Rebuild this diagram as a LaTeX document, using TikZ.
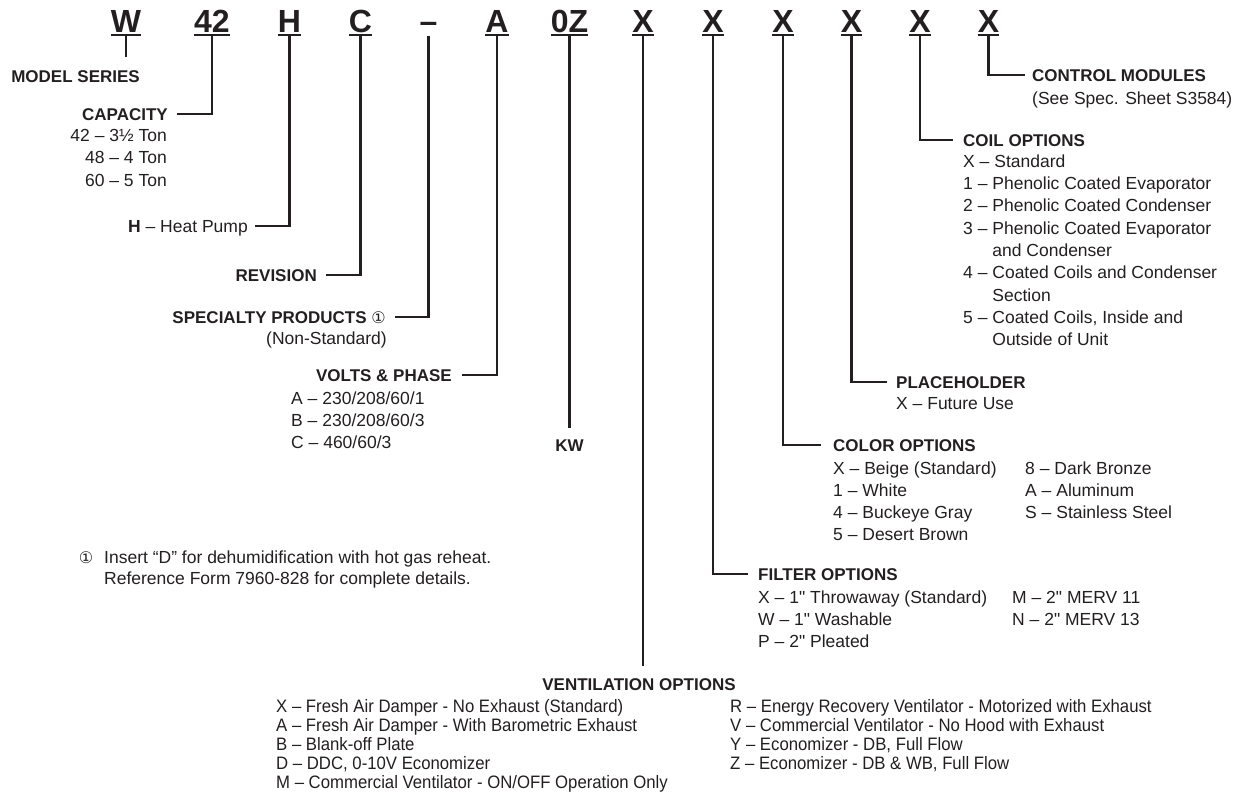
\documentclass[tikz,border=0pt]{standalone}
\usepackage{fontspec}
\setmainfont{Liberation Sans}[Ligatures=TeXOff]
\newfontfamily\symf{DejaVu Sans}
\newfontfamily\condf{Liberation Sans}[Ligatures=TeXOff,FakeStretch=0.93]
\usetikzlibrary{calc}
\definecolor{ink}{HTML}{231F20}
\begin{document}
\begin{tikzpicture}[x=1pt,y=-1pt,
  code/.style={font=\fontsize{32}{32}\selectfont\bfseries,inner sep=0pt,text depth=0pt,anchor=base,text=ink},
  uline/.style={draw=ink,line width=1.8pt},
  conn/.style={draw=ink,line width=2.6pt},
  hdr/.style={font=\fontsize{17}{20}\selectfont\bfseries,inner sep=0pt,text height=12.2pt,text depth=0pt,text=ink},
  item/.style={font=\fontsize{17.5}{21}\selectfont,inner sep=0pt,text height=12.5pt,text depth=0pt,text=ink},
  vitem/.style={item,font=\condf\fontsize{18}{20}\selectfont,text height=12.9pt},
]
\useasboundingbox (0,0) rectangle (1250,804);

% ---- code letters ----
\node[code] (cW)  at (126,32)   {W};
\node[code] (c42) at (212,32)   {42};
\node[code] (cH)  at (289.5,32) {H};
\node[code] (cC)  at (360.5,32) {C};
\node[code] (cD)  at (428.5,32) {–};
\node[code] (cA)  at (497,32)   {A};
\node[code] (cK)  at (569.5,32) {0Z};
\node[code] (cX1) at (643,32)   {X};
\node[code] (cX2) at (713,32)   {X};
\node[code] (cX3) at (783,32)   {X};
\node[code] (cX4) at (851.5,32) {X};
\node[code] (cX5) at (920,32)   {X};
\node[code] (cX6) at (988.5,32) {X};
\foreach \n in {cW,c42,cH,cC,cA,cK,cX1,cX2,cX3,cX4,cX5,cX6}
  \draw[uline] ([yshift=-2.4pt]\n.south west) -- ([yshift=-2.4pt]\n.south east);

% ---- left labels ----
\node[hdr,anchor=east] (ms) at (140,76) {MODEL SERIES};
\node[hdr,anchor=east] (cap) at (168,114) {CAPACITY};
\node[item,anchor=east] (cap1) at (167,135)   {42 – 3½ Ton};
\node[item,anchor=east] (cap2) at (167,157.5) {48 – 4 Ton};
\node[item,anchor=east] (cap3) at (167,180)   {60 – 5 Ton};
\node[item,anchor=east] (hp) at (248,226) {{\bfseries H} – Heat Pump};
\node[hdr,anchor=east] (rev) at (317,275) {REVISION};
\node[hdr,anchor=east] (sp) at (386,317) {SPECIALTY PRODUCTS {\symf\fontsize{16}{16}\selectfont\mdseries ①}};
\node[item,anchor=east] (sp1) at (387,338) {(Non-Standard)};
\node[hdr,anchor=east] (vp) at (452,375) {VOLTS \& PHASE};
\node[item,anchor=west] (vp1) at (291,398) {A – 230/208/60/1};
\node[item,anchor=west] (vp2) at (291,420) {B – 230/208/60/3};
\node[item,anchor=west] (vp3) at (291,442) {C – 460/60/3};
\node[hdr] (kw) at (569.5,445) {KW};

% ---- footnote ----
\node[item,font=\symf\fontsize{16}{16}\selectfont] (fnm) at (86,557) {①};
\node[item,anchor=west] (fn1) at (104,557) {Insert “D” for dehumidification with hot gas reheat.};
\node[item,anchor=west] (fn2) at (104,578) {Reference Form 7960-828 for complete details.};

% ---- right labels ----
\node[hdr,anchor=west] (ctl) at (1032,75) {CONTROL MODULES};
\node[item,anchor=west] (ctl1) at (1032,98) {(See Spec. Sheet S3584)};

\node[hdr,anchor=west] (coil) at (963,140) {COIL OPTIONS};
\foreach \t [count=\i] in {X – Standard, 1 – Phenolic Coated Evaporator, 2 – Phenolic Coated Condenser,
  3 – Phenolic Coated Evaporator, \phantom{3 – }and Condenser, 4 – Coated Coils and Condenser,
  \phantom{4 – }Section, {5 – Coated Coils, Inside and}, \phantom{5 – }Outside of Unit}
  \node[item,anchor=west] (coil\i) at (963,{161+22.3*(\i-1)}) {\t};

\node[hdr,anchor=west] (ph) at (896,382) {PLACEHOLDER};
\node[item,anchor=west] (ph1) at (896,403) {X – Future Use};

\node[hdr,anchor=west] (col) at (833,445) {COLOR OPTIONS};
\foreach \t [count=\i] in {X – Beige (Standard), 1 – White, 4 – Buckeye Gray, 5 – Desert Brown}
  \node[item,anchor=west] (colA\i) at (833,{468+22*(\i-1)}) {\t};
\foreach \t [count=\i] in {8 – Dark Bronze, A – Aluminum, S – Stainless Steel}
  \node[item,anchor=west] (colB\i) at (1025,{468+22*(\i-1)}) {\t};

\node[hdr,anchor=west] (fil) at (758,574) {FILTER OPTIONS};
\foreach \t [count=\i] in {X – 1" Throwaway (Standard), W – 1" Washable, P – 2" Pleated}
  \node[item,anchor=west] (filA\i) at (758,{597+22*(\i-1)}) {\t};
\foreach \t [count=\i] in {M – 2" MERV 11, N – 2" MERV 13}
  \node[item,anchor=west] (filB\i) at (1012,{597+22*(\i-1)}) {\t};

\node[hdr] (vh) at (639,684) {VENTILATION OPTIONS};
\foreach \t [count=\i] in {X – Fresh Air Damper - No Exhaust (Standard), A – Fresh Air Damper - With Barometric Exhaust,
  B – Blank-off Plate, {D – DDC, 0-10V Economizer}, M – Commercial Ventilator - ON/OFF Operation Only}
  \node[vitem,anchor=west] (vA\i) at (276,{706+19*(\i-1)}) {\t};
\foreach \t [count=\i] in {R – Energy Recovery Ventilator - Motorized with Exhaust, V – Commercial Ventilator - No Hood with Exhaust,
  {Y – Economizer - DB, Full Flow}, {Z – Economizer - DB \& WB, Full Flow}}
  \node[vitem,anchor=west] (vB\i) at (730,{706+19*(\i-1)}) {\t};

% ---- connectors ----
\coordinate (wEnd) at (126,57);
\draw[conn] ([yshift=-2.4pt]cW.south) -- (wEnd);
\draw[conn] ([yshift=-2.4pt]c42.south) |- ([xshift=9pt]cap.east);
\draw[conn] ([yshift=-2.4pt]cH.south) |- ([xshift=7pt]hp.east);
\draw[conn] ([yshift=-2.4pt]cC.south) |- ([xshift=9pt]rev.east);
\draw[conn] ([yshift=-3.4pt]cD.south) |- ([xshift=9pt]sp.east);
\draw[conn] ([yshift=-2.4pt]cA.south) |- ([xshift=10pt]vp.east);
\draw[conn] ([yshift=-2.4pt]cK.south) -- ([yshift=11pt]kw.north);
\draw[conn] ([yshift=-2.4pt]cX1.south) -- ($(cX1.south |- vh.north)+(0,-12)$);
\draw[conn] ([yshift=-2.4pt]cX2.south) |- ([xshift=-10pt]fil.west);
\draw[conn] ([yshift=-2.4pt]cX3.south) |- ([xshift=-12pt]col.west);
\draw[conn] ([yshift=-2.4pt]cX4.south) |- ([xshift=-9pt]ph.west);
\draw[conn] ([yshift=-2.4pt]cX5.south) |- ([xshift=-10pt]coil.west);
\draw[conn] ([yshift=-2.4pt]cX6.south) |- ([xshift=-7pt]ctl.west);
\end{tikzpicture}
\end{document}
